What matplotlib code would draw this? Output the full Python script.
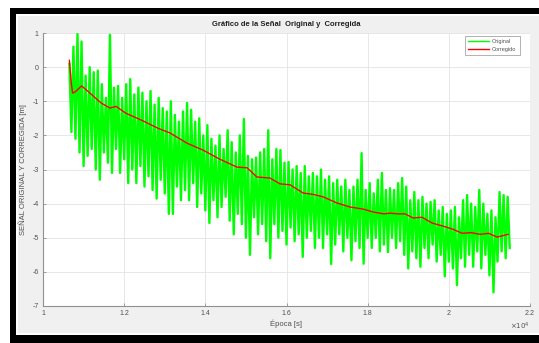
import numpy as np
import matplotlib
matplotlib.use("Agg")
import matplotlib.pyplot as plt
from matplotlib.patches import Rectangle
from matplotlib.ticker import FuncFormatter

# =====================================
# DATA
# =====================================

# señal original: muestras cada 50 s desde 10650 s
t_orig = 10650 + 50 * np.arange(218)
y_orig = [
    0.1, -1.9, 0.6, -2.1, 0.97, -2.5, 0.75, -2.9, -0.25, -2.6,
    0.0, -2.4, -0.15, -3.0, -0.1, -3.3, -0.5, -2.5, -0.9, -2.8,
    0.95, -3.1, -0.6, -2.4, -0.55, -3.1, -0.9, -2.7, -0.5, -3.4,
    -0.35, -3.0, -0.8, -3.4, -0.6, -2.9, -0.75, -3.5, -1.0, -3.2,
    -0.7, -3.6, -1.1, -3.85, -0.9, -3.3, -1.2, -3.7, -1.3, -4.3,
    -1.0, -4.3, -1.4, -3.5, -1.6, -3.9, -1.3, -3.6, -1.05, -3.9,
    -1.25, -3.4, -1.6, -4.1, -1.5, -3.7, -2.0, -4.2, -1.7, -4.57,
    -2.1, -3.9, -2.3, -4.4, -2.0, -4.1, -2.4, -3.8, -1.85, -4.5,
    -2.2, -4.9, -2.5, -4.3, -2.0, -4.6, -1.52, -5.0, -2.6, -5.5,
    -2.7, -4.4, -2.65, -4.9, -2.5, -4.6, -2.4, -5.1, -1.85, -5.6,
    -2.7, -4.6, -2.4, -5.0, -2.43, -4.8, -2.8, -5.2, -2.78, -4.7,
    -3.0, -5.1, -2.9, -4.9, -3.1, -5.56, -2.9, -5.0, -3.2, -4.8,
    -3.1, -5.3, -3.2, -5.0, -3.0, -5.3, -3.3, -4.9, -3.2, -5.77,
    -3.4, -5.2, -3.3, -4.9, -3.5, -5.4, -3.3, -5.0, -3.6, -5.66,
    -3.5, -5.1, -3.3, -5.3, -2.52, -5.76, -3.6, -5.0, -3.4, -5.3,
    -3.7, -5.0, -3.3, -5.4, -3.1, -5.2, -3.6, -5.42, -3.55, -5.0,
    -3.6, -5.3, -3.4, -5.1, -3.25, -5.5, -3.5, -5.9, -3.9, -5.4,
    -3.66, -5.6, -3.9, -5.85, -3.8, -5.3, -4.0, -5.6, -3.95, -5.2,
    -3.9, -5.7, -4.2, -5.5, -4.1, -6.13, -4.3, -5.7, -4.2, -5.9,
    -4.1, -6.39, -4.4, -5.6, -3.9, -5.85, -3.75, -5.5, -4.0, -5.85,
    -4.1, -5.4, -3.6, -5.9, -4.0, -5.5, -4.3, -6.1, -4.2, -6.6,
    -4.4, -5.7, -3.66, -5.4, -3.75, -5.6, -3.8, -5.3,
]

# señal corregida
t_corr = [
    10650, 10700, 10730, 10800, 10950, 11100, 11430, 11650, 11800, 12040,
    12420, 12830, 13130, 13550, 13940, 14360, 14780, 15030, 15270, 15590,
    15840, 16090, 16410, 16660, 16900, 17240, 17570, 17890, 18150, 18400,
    18550, 18750, 18920, 19120, 19340, 19590, 19860, 20100, 20330, 20550,
    20770, 20980, 21190, 21460,
]
y_corr = [
    0.2, -0.5, -0.76, -0.72, -0.55, -0.7, -1.05, -1.2, -1.15, -1.35,
    -1.55, -1.79, -1.93, -2.23, -2.43, -2.7, -2.93, -2.95, -3.22, -3.25,
    -3.42, -3.45, -3.69, -3.73, -3.8, -3.98, -4.1, -4.16, -4.25, -4.3,
    -4.28, -4.3, -4.3, -4.42, -4.4, -4.57, -4.66, -4.75, -4.87, -4.85,
    -4.9, -4.87, -4.98, -4.9,
]

xticks = [10000, 12000, 14000, 16000, 18000, 20000, 22000]
yticks = [-7, -6, -5, -4, -3, -2, -1, 0, 1]

# =====================================
# FIGURE
# =====================================

W, H = 539, 343
plt.rcParams["font.family"] = ["Liberation Sans", "DejaVu Sans"]
plt.rcParams["axes.unicode_minus"] = False
fig = plt.figure(figsize=(W / 100, H / 100), dpi=100, facecolor="white")


def px_rect(x0, y0, x1, y1, color):
    fig.patches.append(Rectangle(
        (x0 / W, 1 - y1 / H), (x1 - x0) / W, (y1 - y0) / H,
        transform=fig.transFigure, facecolor=color, edgecolor="none", zorder=-10
    ))


# marco negro de la captura
px_rect(10, 8, 539, 343, "black")
px_rect(16, 14, 539, 335, "white")
px_rect(18, 16, 539, 333, "#f0f0f0")

ax = fig.add_axes([43 / W, 1 - 306 / H, (530 - 43) / W, (306 - 33) / H])
ax.set_facecolor("white")

ax.plot(t_orig, y_orig, color="#00ff00", linewidth=1.7, label="Original")
ax.plot(t_corr, y_corr, color="#ff0000", linewidth=1.0, label="Corregido")

ax.set_xlim(10000, 22000)
ax.set_ylim(-7, 1)
ax.set_xticks(xticks)
ax.set_yticks(yticks)
ax.xaxis.set_major_formatter(FuncFormatter(lambda v, p: f"{v / 1e4:g}"))

ax.grid(True, color="#e3e3e3", linewidth=0.6)
ax.set_axisbelow(True)

for s in ["top", "right"]:
    ax.spines[s].set_visible(False)
for s in ["left", "bottom"]:
    ax.spines[s].set_color("#909090")
    ax.spines[s].set_linewidth(0.8)

ax.tick_params(direction="in", length=2.5, width=0.6, colors="#909090",
               labelsize=5, labelcolor="#505050", pad=3)

ax.set_title("Gráfico de la Señal  Original y  Corregida", fontsize=5.5,
             fontweight="bold", color="#202020", pad=5)
ax.set_xlabel("Época [s]", fontsize=5.5, color="#505050", labelpad=2)
ax.set_ylabel("SEÑAL ORIGINAL Y CORREGIDA [m]", fontsize=5.5,
              color="#505050", labelpad=4)

ax.text(1.0, -0.055, r"$\times10^4$", transform=ax.transAxes, ha="right",
        va="top", fontsize=5, color="#505050")

leg = ax.legend(loc="upper right", bbox_to_anchor=(0.979, 0.99),
                borderaxespad=0, fontsize=4, frameon=True, fancybox=False,
                handlelength=3.8, handletextpad=0.5, borderpad=0.6,
                labelspacing=0.45)
leg.get_frame().set_edgecolor("#909090")
leg.get_frame().set_linewidth(0.6)
for line in leg.get_lines():
    line.set_linewidth(1.0)
for t in leg.get_texts():
    t.set_color("#505050")

fig.savefig("out.png", dpi=100)
